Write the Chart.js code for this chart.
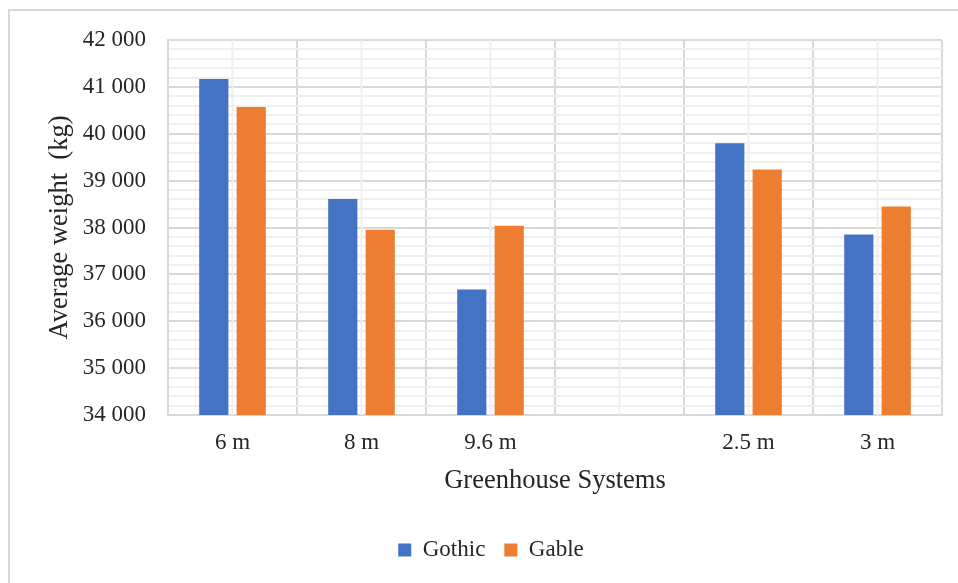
<!DOCTYPE html>
<html>
<head>
<meta charset="utf-8">
<script src="https://cdn.jsdelivr.net/npm/chart.js@4/dist/chart.umd.min.js"></script>
<style>
  html, body { margin: 0; padding: 0; background: #fff; }
  #wrap { position: relative; width: 958px; height: 583px; overflow: hidden; }
  #frame { position: absolute; left: 8px; top: 9px; right: -4px; bottom: -4px;
           border-top: 2px solid #d9d9d9; border-left: 2px solid #d9d9d9; }
  canvas { position: absolute; left: 0; top: 0; }
</style>
</head>
<body>
<div id="wrap">
  <div id="frame"></div>
  <canvas id="chart" width="958" height="583"></canvas>
</div>
<script>
// Greenhouse span categories (blank slot separates the two groups)
const categories = ['6 m', '8 m', '9.6 m', '', '2.5 m', '3 m'];
const gothicWeights = [41170, 38610, 36680, null, 39800, 37850];
const gableWeights = [40570, 37950, 38040, null, 39240, 38450];
const yMin = 34000;
const yMax = 42000;

const serif = "'Liberation Serif', 'Times New Roman', serif";
const textColor = '#262626';

// light vertical lines through the middle of each category
const centerLines = {
  id: 'centerLines',
  beforeDatasetsDraw(chart) {
    const { ctx, chartArea, scales } = chart;
    const x = scales.x;
    ctx.save();
    ctx.strokeStyle = '#f0f0f0';
    ctx.lineWidth = 2;
    for (let i = 0; i < categories.length; i++) {
      const px = x.getPixelForTick(i);
      ctx.beginPath();
      ctx.moveTo(px, chartArea.top);
      ctx.lineTo(px, chartArea.bottom);
      ctx.stroke();
    }
    ctx.restore();
  }
};

new Chart(document.getElementById('chart'), {
  type: 'bar',
  data: {
    labels: categories,
    datasets: [
      { label: 'Gothic', data: gothicWeights, backgroundColor: '#4472C4',
        categoryPercentage: 0.58, barPercentage: 0.78 },
      { label: 'Gable', data: gableWeights, backgroundColor: '#ED7D31',
        categoryPercentage: 0.58, barPercentage: 0.78 }
    ]
  },
  options: {
    responsive: false,
    animation: false,
    layout: { padding: { left: 40, right: 16, top: 40, bottom: 11.5 } },
    plugins: {
      tooltip: { enabled: false },
      legend: {
        position: 'bottom',
        labels: {
          font: { family: serif, size: 23 },
          color: textColor,
          boxWidth: 13,
          boxHeight: 13,
          padding: 19
        }
      }
    },
    scales: {
      x: {
        afterFit(scale) { scale.height = 104.5; },
        grid: { color: '#d9d9d9', lineWidth: 2, drawTicks: false },
        border: { color: '#d9d9d9', width: 2 },
        ticks: { font: { family: serif, size: 23 }, color: textColor, padding: 14 },
        title: {
          display: true, text: 'Greenhouse Systems',
          font: { family: serif, size: 26.5 }, color: textColor,
          padding: { top: 0, bottom: 22.5 }
        }
      },
      y: {
        min: yMin,
        max: yMax,
        afterFit(scale) { scale.width = 128; },
        grid: {
          drawTicks: false,
          lineWidth: 2,
          color: (c) => (c.tick && c.tick.value % 1000 === 0) ? '#d9d9d9' : '#f0f0f0'
        },
        border: { color: '#d9d9d9', width: 2 },
        ticks: {
          stepSize: 200,
          autoSkip: false,
          padding: 22,
          font: { family: serif, size: 23 },
          color: textColor,
          callback: (v) => v % 1000 === 0 ? String(v).replace(/(\d{2})(\d{3})$/, '$1 $2') : ''
        },
        title: {
          display: true, text: 'Average weight  (kg)',
          font: { family: serif, size: 26.5 }, color: textColor,
          padding: { top: 4, bottom: 0 }
        }
      }
    }
  },
  plugins: [centerLines]
});
</script>
</body>
</html>
